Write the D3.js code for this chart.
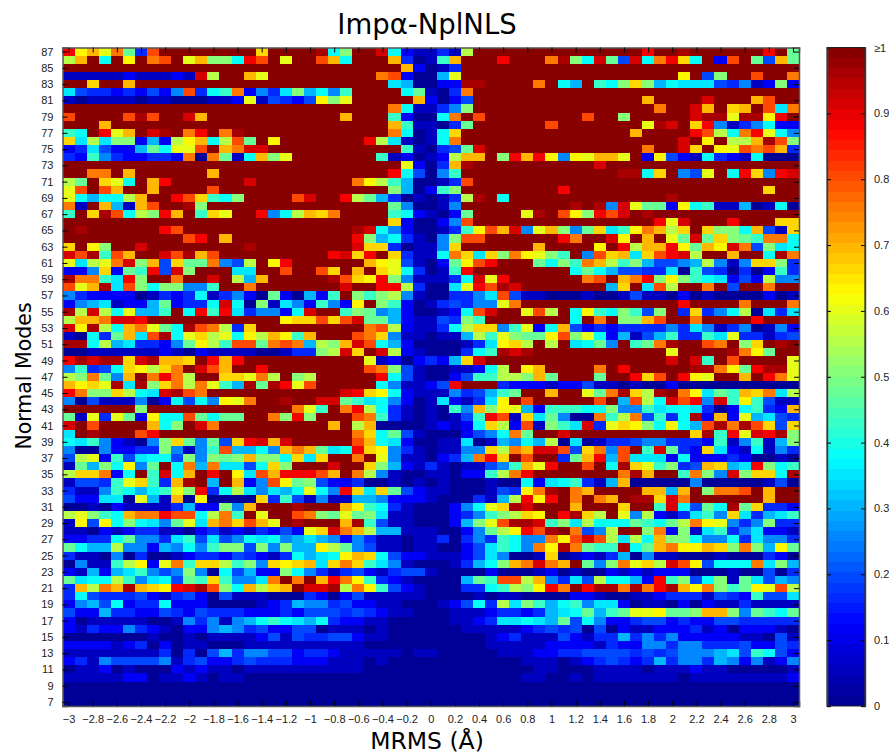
<!DOCTYPE html>
<html>
<head>
<meta charset="utf-8">
<script src="https://cdn.jsdelivr.net/npm/d3@7"></script>
<style>
html, body { margin: 0; padding: 0; background: #fff; }
svg { display: block; }
.axis text { font-family: "Liberation Sans", sans-serif; font-size: 11px; fill: #222; }
.axis line { stroke: #000; }
.axis path { stroke: #555; stroke-width: 1.5px; fill: none; }
.label { font-family: "DejaVu Sans", sans-serif; fill: #000; text-anchor: middle; }
rect.cell, rect.step { shape-rendering: crispEdges; }
</style>
</head>
<body>
<svg width="889" height="756"></svg>
<script>
// one string per normal mode, 87 first, one char per MRMS bin from -3 to 3 (| only groups the columns)
var modeRows = [
"jegdha3immmmmmmmfmmmm|l8bmmk821131cmmmmmmm|mmmmmmmjmmlmmmmmmjma",
"cgm8memhimdgbb8jimdmm|ig8mmmg3019gmmmjmmmh|lb8ka4k8hjf8m2ima4ga",
"mmmmmmmmmmmmmmmmmmmmm|mmmmmmmg2013mmmmmmmm|mmmmmmmmmmmmmmmmmmmm",
"11111211121kcmmgdmmmm|mmmmmhi2006dmmmmmmmm|mmmmmmmmmmem4bmmimmh",
"mmfmmgmmmmmmmmmmmmmmm|mmmmmm760022llmmmmhm|86m98bfb6877743512b2",
"7433232425i389h2537b6|859mmmm8a103hmmmmmmm|mmmmmmmmmmmmmmmmmmmm",
"101111011000112d14324|ebdmmmmmg2024mmmmmmm|mmmmmmmgmmmmkmmmgimm",
"mmmmmmmmmmmmmmmmmmmmm|mmmmmmh81135bmmmmmmm|mmmmmmmmhmmkgmfgmi7h",
"immmmilimmkgmmmmmmmmm|mmgmmm92008hmimmmmmm|mmimmbmmmmmklldllejm",
"mmmgmmmmmmmmmmmmmmmmm|mmmmmmg91103ammmmmmi|mmmmmmmdlkmfj5135822",
"98mjdgmklmhjmhlmmmmmm|mmmmmmh8018fmmmmmmmm|mmmmmmgmmmmjic8hjd85",
"f7c7bb262ceg8ciamemmm|mmmmjc71018hmmmmmmmm|mmmmmmmmmmkmemccglib",
"2374226a8ddimghkkmmmm|mmmmmmm91034akmmmmmm|mmmmmmmhmmkfmedihig3",
"3295322332h0ha18gbdmm|mmmmm912012cggmbjgje|5edggdm2e42183218000",
"mmmmmmmmmmmmmmmmmmmmm|mmmmmmmd203glmmmmmmm|mmmkmmmmmmmmmmmmmmmm",
"mmhhmgmmmmmmgmmmmmmmm|mmmmmmj84059mmmmmmmm|mmmmmll8fm54dm8jf5jk",
"camfd8mgjmmmmmmkmmmmm|mmmhec960013immmmmmm|mmmmmmmmmmmmmmmmmmmm",
"dimigmmgmmmmimmmmmmmm|mmmmmmb6029bmmmmmmmm|jmmmmmmmmmmmmmmmmfmm",
"d8688cgmmjif98bmmmmik|mmjca6301013clm8mmmm|mmmmmmmmmlmmmmmmmmmm",
"h1mg61gimmlbmmmmmmmmm|mmmmmma50015mmmmmmmm|mlml5kdaa2e891160180",
"9mfli8cbjgm9fdmmj58cg|fhmmmm982102ammmmdlm|iebjikmlmmmmmmmmmmmm",
"mmmmmmmmmmmmmmmmmmmmm|mmmmmmf20025immmmmmm|mmmmmmmmjdkmmmjmmmff",
"mlmmmmmmjimmmmmmmmmmm|mmmlk85200139eigk5dg|b5af79ehgcfmfbb8g41f",
"mmmmmmmmmmijmgmmmmmmm|mmmjb683105biimmmmmm|jhmmkemgmdakafba9hh8",
"fmebmmkmmmmmmmmlmmmmm|mmmkff30115fmmmmmmgm|mmmemjcggjeagekh4b78",
"kil9igmmkilgimmmmmmmm|mjkfjmf3118hf7fbhedb|9m5ifg7fijkcmmgmm8lh",
"d7cdhkbg4faah54cmejmm|mmmmged4102aeijmmma8|b9hgc9b64456c515ffb3",
"225f2a9j4kbmmm77mmimm|ifmgmfd83019jmmmmmmm|m8a86443370943030293",
"lhh97jbmmhmmkmc6gmmmm|mlifejb511138kdjmmmm|mmhimghjbeb987242c55",
"idgl7ib8bb559mmhmmmmm|mmkmmjjc3007djilkmmm|mmmm6fm7icmmhm4mmhmm",
"53222201323813520a206|29mb9bc51003357i4110|00100141102010000201",
"25671226a2338k80b1752|952emb920134355dhmmm|mmmmmmmmmmjmmmmhmmmh",
"lckc8d669m8j9j735528k|mm9ba56200128ikmmdic|m8e98b94bm3f358c0737",
"cgghkkjmmmmmmmmmmmeff|ifikaa621143b9mmmmmm|m8mhmbbgimmhmmmmjmmm",
"kelc8ghda8lihc3fmmmmm|mmmmhic21138cff59d28|g4232333353751350152",
"1083ag7il8dfcd8ecge9g|mmmihf5110116c9dbaae|ibd82614693397d33134",
"ll8c673325aec9iiahih6|cbgki8620000137efcmc|m78a5m9ahlmmihmbfmlm",
"001111112102111100133|bckfmkc21000389lklmm|mmmmmmmmmdmmmmlheamm",
"jlkllfklggfmjgjmmmmmm|mmmmd1202326fkmmmmmm|mmmmmmmmmkmk9mimmmmd",
"59348fecfhmkigmmjmmmm|mmmmihb41001128cmegm|mmmhmjmmmmmllheajlld",
"cbha5gmhjhcmmffdhcmbc|mmmmmj841002499ccbga|mmmammjfimjedmmgmjhd",
"gefdl7lbfhchd96laljdi|mmmmm851124jmmm32221|22411010020000000000",
"jhbbfc87klihmmmmmmmmm|mmkjfe8211153469ammg|mmdahlfclmhe7a9gfh7c",
"5041115028485edhmmlmm|kka978520172137emimm|mmmim6ic8kij5k9e9411",
"mmmmmmbmmmmmmmmmmmmhd|9mhjc83101095gbed629|9988b55978873028932g",
"a1d3da2e88ia8aammhbjb|mmmih931010149ji1f7a|500h9ch4938l2g2d6743",
"kmimmmmg8bmkhmmmmmmmm|mgmcg000012128fc2i1b|97k3dfeb8e86ilhlif4f",
"7mlmmmijmmmmmmmmmmmmm|mmmhf8a410002458hamm|kmmmmmmmmmmfl9jdkjlb",
"87952105bfa5a4fjkgkmm|mmmig87200117016586c|0701334553332915916b",
"50052233b5159i6685ghg|a78jfe53101155fchgkk|i4fh5im9ka32f7218153",
"4cd2947884b5babgbb8f7|fmmhmd5110236hjfmimm|3agj6i77728222320010",
"1a6b8e5am8h6h7748fbmm|mkmmfb62131011459gdj|mmim8lfd9b34gf67jb89",
"cffh28m9k8gmjme7igjjj|igmhc5100110229chjmm|mmmmmhlgmm9hb5kbff8l",
"14439df93glm6mg25ieab|42230010101000100827|89316g00000500000140",
"311598689dbj38c75768d|85jf7fa4211000143ehl|mhgmmmmgg6gmbhhimgmm",
"422770d61g0e0000f3941|5116652221000316cjej|mhmhgmllfkhmmmmmmgmm",
"0010211113622b5gmmmlm|mmge9831000258dflkmm|mgmmmfmm9k84a8laf332",
"cdb98ghhjii8ch9mdmmih|badab7110002359bcfem|jlfcmd5c213795f73679",
"1e4e8b875ad7ghfigdmlm|mmgl941100026bdillk9|b7c888a98ached535b33",
"11021233110231213242d|fkhgc661110025acejil|mh45cmmbh2b179357221",
"22338a553794745878567|6525311011303539855h|eikic7c8gbb855837553",
"a866c55265859bb4b5b66|eca541101100247985he|lha99l8agheegfbhb6ea",
"311050300123324321386|78egf84221112475001f|01213605110001000320",
"05119ce2dh9ffc9b5fefg|7fhf97510001368bghkh|gma5bhdfckie4888h7b6",
"2162679545b5084622b85|31342134410000200012|01002121222000100403",
"a788c95784a9f9557hmhm|gjhe932100006a9iicg5|374c8862j9b48b1a7465",
"3gchglgfejklib8gcfgmk|klche94210003389cbej|hmjllhlhjlgehb9aedic",
"384333421342041110003|20241111100001011000|02210011233314329447",
"256482338222000012365|534221100012483c7b96|89577201102021131111",
"422633224324333222324|44343211000111233236|78a69addeaabggb5a98a",
"201111100153515689876|83221100000112377876|a4852234423224433333",
"213225321022565342244|01110100000011111234|34040211222312022210",
"000000010010111124143|34421100000000123111|42133635352222211041",
"222212302011000111111|11110000000000111112|22213225535533342243",
"111111113030463554423|32111110110000011122|33444434345556749842",
"231544445134223433322|21110100000000000111|01234323635536525125",
"011201000212110111111|11110000000000000011|00011110111211000001",
"111112201121011000000|00000000000000000110|01011111110111111112",
"000000000000000000000|00000000000000000000|00000000000000000000",
"000000000000000000000|00000000000000000000|00000000000000000000",
"000000000000000000000|00000000000000000000|00000000000000000000"
];

// what each char in modeRows stands for
var levelChars = "0123456789abcdefghijklm";
var levelValues = [0.015, 0.06, 0.115, 0.16, 0.2, 0.25, 0.3, 0.35, 0.385, 0.43, 0.47, 0.5,
    0.55, 0.6, 0.625, 0.66, 0.7, 0.75, 0.8, 0.875, 0.92, 0.96, 1];

var xTicks = [-3, -2.8, -2.6, -2.4, -2.2, -2, -1.8, -1.6, -1.4, -1.2, -1, -0.8, -0.6, -0.4, -0.2,
    0, 0.2, 0.4, 0.6, 0.8, 1, 1.2, 1.4, 1.6, 1.8, 2, 2.2, 2.4, 2.6, 2.8, 3];
var yTicks = [7, 9, 11, 13, 15, 17, 19, 21, 23, 25, 27, 29, 31, 33, 35, 37, 39, 41, 43, 45, 47,
    49, 51, 53, 55, 57, 59, 61, 63, 65, 67, 69, 71, 73, 75, 77, 79, 81, 83, 85, 87];
var barTicks = [0, 0.1, 0.2, 0.3, 0.4, 0.5, 0.6, 0.7, 0.8, 0.9, 1];

var svg = d3.select("svg"),
    margin = {top: 47.5, left: 62.5, bottom: 50, right: 90},
    width = +svg.attr("width") - margin.left - margin.right,
    height = +svg.attr("height") - margin.top - margin.bottom,
    g = svg.append("g").attr("transform", "translate(" + margin.left + "," + margin.top + ")");

var x = d3.scaleLinear().domain([-3.05, 3.05]).range([0, width]);
var y = d3.scaleLinear().domain([6.5, 87.5]).range([height, 0]);

// jet, cut in 64 steps like the colour bar
var jet = d3.scaleLinear()
    .domain([0, 0.125, 0.375, 0.625, 0.875, 1])
    .range(["#00008f", "#0000ff", "#00ffff", "#ffff00", "#ff0000", "#800000"]);
var color = d3.scaleQuantize()
    .domain([0, 1])
    .range(d3.range(64).map(function(i) { return jet((i + 0.5) / 64); }));

var cells = [];
modeRows.forEach(function(row, r) {
    row.replace(/\|/g, "").split("").forEach(function(ch, c) {
        cells.push({
            mode: 87 - r,
            mrms: -3 + c * 0.1,
            value: levelValues[levelChars.indexOf(ch)]
        });
    });
});

g.selectAll("rect.cell")
    .data(cells)
    .enter().append("rect")
    .attr("class", "cell")
    .attr("x", function(d) { return x(d.mrms - 0.05); })
    .attr("y", function(d) { return y(d.mode + 0.5); })
    .attr("width", x(0.1) - x(0))
    .attr("height", y(0) - y(1))
    .attr("fill", function(d) { return color(d.value); });

var tickFmt = d3.format("~g");

g.append("g")
    .attr("class", "axis")
    .attr("transform", "translate(0," + height + ")")
    .call(d3.axisBottom(x).tickValues(xTicks).tickSize(-5).tickPadding(9).tickFormat(tickFmt));
g.append("g")
    .attr("class", "axis")
    .call(d3.axisTop(x).tickValues(xTicks).tickSize(-5).tickFormat(""));
g.append("g")
    .attr("class", "axis")
    .call(d3.axisLeft(y).tickValues(yTicks).tickSize(-5).tickPadding(9).tickFormat(tickFmt));
g.append("g")
    .attr("class", "axis")
    .attr("transform", "translate(" + width + ",0)")
    .call(d3.axisRight(y).tickValues(yTicks).tickSize(-5).tickFormat(""));

// colour bar
var barX = 827, barW = 38;
var barY = d3.scaleLinear().domain([0, 1]).range([height, 0]);
var bar = svg.append("g").attr("transform", "translate(" + barX + "," + margin.top + ")");

bar.selectAll("rect")
    .data(color.range())
    .enter().append("rect")
    .attr("class", "step")
    .attr("x", 0)
    .attr("y", function(d, i) { return barY((i + 1) / 64); })
    .attr("width", barW)
    .attr("height", barY(0) - barY(1 / 64))
    .attr("fill", function(d) { return d; });

bar.append("g")
    .attr("class", "axis")
    .attr("transform", "translate(" + barW + ",0)")
    .call(d3.axisRight(barY).tickValues(barTicks).tickSize(-4).tickPadding(9)
        .tickFormat(function(d) { return d === 1 ? "≥1" : tickFmt(d); }));
bar.append("g")
    .attr("class", "axis")
    .call(d3.axisLeft(barY).tickValues(barTicks).tickSize(-4).tickFormat(""));
bar.append("rect")
    .attr("width", barW)
    .attr("height", height)
    .attr("fill", "none")
    .attr("stroke", "#222")
    .attr("stroke-width", 1);
svg.selectAll(".axis .domain").attr("stroke", "#555");

// titles
svg.append("text")
    .attr("class", "label")
    .attr("x", 427)
    .attr("y", 34)
    .style("font-size", "27.5px")
    .text("Impα-NplNLS");
svg.append("text")
    .attr("class", "label")
    .attr("x", 427)
    .attr("y", 749)
    .style("font-size", "23.5px")
    .text("MRMS (Å)");
svg.append("text")
    .attr("class", "label")
    .attr("transform", "translate(31,376) rotate(-90)")
    .style("font-size", "20.5px")
    .text("Normal Modes");
</script>
</body>
</html>
